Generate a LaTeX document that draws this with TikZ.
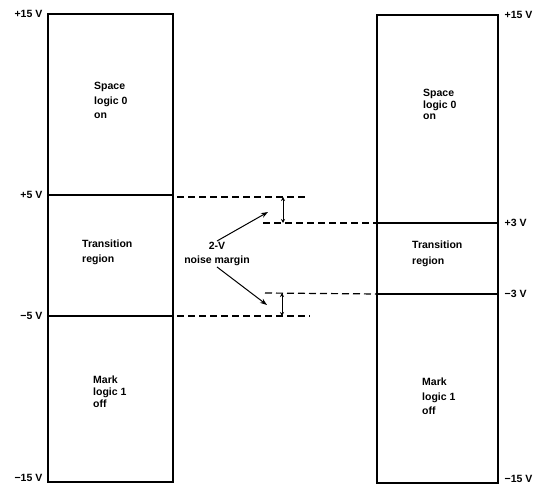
\documentclass[tikz,border=0pt]{standalone}
\usepackage{fontspec}
\setmainfont{Liberation Sans}
\usetikzlibrary{arrows.meta}
\begin{document}
\begin{tikzpicture}[x=1pt,y=-1pt,
  boxline/.style={line width=1.4pt},
  lbl/.style={font=\bfseries\fontsize{10.5}{12}\selectfont, inner sep=0.5pt},
  txt/.style={font=\bfseries\fontsize{10.5}{#1}\selectfont, align=left, anchor=north west, inner sep=0pt},
  dsh/.style={line width=1.2pt, dash pattern=on 7pt off 4pt},
  arr/.style={line width=1pt, -{Stealth[length=7pt,width=5pt]}},
  marg/.style={line width=1pt, {Stealth[length=4pt,width=4pt]}-{Stealth[length=4pt,width=4pt]}}]
\useasboundingbox (0,0) rectangle (539,486);
% left box corners and levels
\coordinate (LTL) at (48,14);  \coordinate (LTR) at (173,14);
\coordinate (LP5L) at (48,195); \coordinate (LP5R) at (173,195);
\coordinate (LM5L) at (48,316); \coordinate (LM5R) at (173,316);
\coordinate (LBL) at (48,482); \coordinate (LBR) at (173,482);
\draw[boxline] (LTL) -- (LTR) -- (LBR) -- (LBL) -- cycle;
\draw[boxline] (LP5L) -- (LP5R);
\draw[boxline] (LM5L) -- (LM5R);
% right box
\coordinate (RTL) at (377,15);  \coordinate (RTR) at (498,15);
\coordinate (RP3L) at (377,223); \coordinate (RP3R) at (498,223);
\coordinate (RM3L) at (377,294); \coordinate (RM3R) at (498,294);
\coordinate (RBL) at (377,483); \coordinate (RBR) at (498,483);
\draw[boxline] (RTL) -- (RTR) -- (RBR) -- (RBL) -- cycle;
\draw[boxline] (RP3L) -- (RP3R);
\draw[boxline] (RM3L) -- (RM3R);
% voltage labels
\node[lbl, anchor=east] (l15) at ([xshift=-5pt]LTL) {+15 V};
\node[lbl, anchor=east] (l5) at ([xshift=-5pt]LP5L) {+5 V};
\node[lbl, anchor=east] (lm5) at ([xshift=-5pt]LM5L) {−5 V};
\node[lbl, anchor=east] (lm15) at ([xshift=-5pt,yshift=4pt]LBL) {−15 V};
\node[lbl, anchor=west] (r15) at ([xshift=6pt]RTR) {+15 V};
\node[lbl, anchor=west] (r3) at ([xshift=6pt]RP3R) {+3 V};
\node[lbl, anchor=west] (rm3) at ([xshift=6pt]RM3R) {−3 V};
\node[lbl, anchor=west] (rm15) at ([xshift=6pt,yshift=4pt]RBR) {−15 V};
% box texts
\node[txt=14.5] (ls) at (94,82) {Space\\logic 0\\on};
\node[txt=15] (lt) at (82,240) {Transition\\region};
\node[txt=12] (lmk) at (93,376) {Mark\\logic 1\\off};
\node[txt=11.5] (rs) at (423,89) {Space\\logic 0\\on};
\node[txt=16] (rt) at (412,241) {Transition\\region};
\node[txt=14.5] (rmk) at (422,378) {Mark\\logic 1\\off};
% dashed extensions
\coordinate (d1a) at (177,197); \coordinate (d1b) at (307,197);
\coordinate (d2a) at (263,223);
\coordinate (d3a) at (265,293);
\coordinate (d4a) at (177,316); \coordinate (d4b) at (310,316);
\draw[dsh] (d1a) -- (d1b);
\draw[dsh] (d2a) -- (RP3L);
\draw[dsh] (d3a) -- (RM3L);
\draw[dsh] (d4a) -- (d4b);
% margin markers
\coordinate (m1t) at (283,197); \coordinate (m1b) at (283,223);
\coordinate (m2t) at (282,293); \coordinate (m2b) at (282,316);
\draw[marg] (m1t) -- (m1b);
\draw[marg] (m2t) -- (m2b);
% noise margin label and arrows
\node[font=\bfseries\fontsize{10.5}{14}\selectfont, align=center, inner sep=1pt] (nm) at (217,254) {2-V\\noise margin};
\coordinate (up) at (268,212);
\coordinate (dn) at (267,305);
\draw[arr] (nm.north) -- (up);
\draw[arr] (nm.south) -- (dn);
\end{tikzpicture}
\end{document}
